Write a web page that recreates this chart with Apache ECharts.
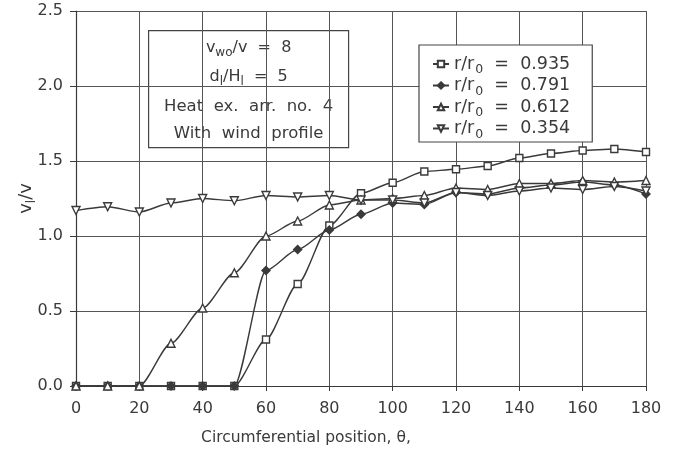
<!DOCTYPE html>
<html><head><meta charset="utf-8">
<script src="https://cdn.jsdelivr.net/npm/echarts@6/dist/echarts.min.js"></script>
<style>html,body{margin:0;padding:0;background:#fff}#c{width:674px;height:450px}</style>
</head><body><div id="c"></div>
<script>
var theta = [0,10,20,30,40,50,60,70,80,90,100,110,120,130,140,150,160,170,180];
var r0935 = [0,0,0,0,0,0,0.31,0.68,1.07,1.285,1.355,1.43,1.445,1.467,1.52,1.55,1.57,1.58,1.56];
var r0791 = [0,0,0,0,0,0,0.77,0.91,1.04,1.145,1.22,1.21,1.29,1.28,1.32,1.34,1.36,1.34,1.28];
var r0612 = [0,0,0,0.285,0.52,0.755,1.0,1.10,1.207,1.24,1.25,1.27,1.32,1.31,1.35,1.35,1.37,1.36,1.37];
var r0354 = [1.17,1.195,1.16,1.22,1.25,1.235,1.27,1.26,1.27,1.24,1.24,1.22,1.29,1.27,1.30,1.32,1.31,1.33,1.30];
var seriesNames = ['0.935','0.791','0.612','0.354'];
var xTicks = [0,20,40,60,80,100,120,140,160,180];
var yTicks = [0,0.5,1.0,1.5,2.0,2.5];

var FONT = 'DejaVu Sans';
var INK = '#3a3a3a';
function pair(arr){ return theta.map(function(t,i){ return [t, arr[i]]; }); }
function mkSeries(name, arr, symbol, rot, filled, size){
  return {
    name: name, type: 'line', data: pair(arr), smooth: 0.25, smoothMonotone: 'x',
    symbol: symbol, symbolSize: size, symbolRotate: rot,
    lineStyle: {color: INK, width: 1.4},
    itemStyle: {color: filled ? INK : '#fff', borderColor: INK, borderWidth: 1.4},
    emphasis: {disabled: true}, animation: false
  };
}
var richBox = {n: {fontFamily: FONT, fontSize: 16, fill: INK}, s: {fontFamily: FONT, fontSize: 12, fill: INK, padding: [10,0,0,0]}};
var chart = echarts.init(document.getElementById('c'));
chart.setOption({
  backgroundColor: '#fff',
  animation: false,
  grid: {left: 76, right: 28, top: 11, bottom: 64, outerBoundsMode: 'none', containLabel: false},
  xAxis: {
    type: 'value', min: 0, max: 180, interval: 20,
    name: 'Circumferential position, \u03b8,',
    nameLocation: 'middle', nameGap: 44, nameMoveOverlap: false,
    nameTextStyle: {fontFamily: FONT, fontSize: 15.5, color: INK, padding: [0, 110, 0, 0]},
    axisLine: {lineStyle: {color: INK, width: 1.2}},
    axisTick: {show: true, inside: false, length: 5, lineStyle: {color: INK}},
    axisLabel: {fontFamily: FONT, fontSize: 16, color: INK, margin: 15,
      formatter: function(v){ return xTicks.indexOf(v) >= 0 ? String(v) : ''; }},
    splitLine: {show: true, lineStyle: {color: '#555', width: 1}}
  },
  yAxis: {
    type: 'value', min: 0, max: 2.5, interval: 0.5,
    name: '{n|v}{s|l}{n|/v}',
    nameLocation: 'middle', nameGap: 38, nameRotate: 90, nameMoveOverlap: false,
    nameTextStyle: {fontFamily: FONT, color: INK,
      rich: {n: {fontFamily: FONT, fontSize: 18, color: INK},
             s: {fontFamily: FONT, fontSize: 12, color: INK, padding: [12,0,0,0]}}},
    axisLine: {show: true, lineStyle: {color: INK, width: 1.2}},
    axisTick: {show: true, inside: false, length: 6, lineStyle: {color: INK}},
    axisLabel: {fontFamily: FONT, fontSize: 16, color: INK, margin: 13,
      formatter: function(v){ return yTicks.indexOf(v) >= 0 ? v.toFixed(1) : ''; }},
    splitLine: {show: true, lineStyle: {color: '#555', width: 1}}
  },
  legend: {
    orient: 'vertical', left: 419, top: 45,
    padding: [10, 22, 1, 13], itemGap: 0,
    itemWidth: 16, itemHeight: 8,
    borderColor: '#444', borderWidth: 1.2, backgroundColor: '#fff',
    data: seriesNames,
    formatter: function(n){ return '{n|r/r}{s|0}{n|  =  ' + n + '}'; },
    textStyle: {fontFamily: FONT, color: INK,
      rich: {n: {fontFamily: FONT, fontSize: 17.5, color: INK, lineHeight: 20, padding: [0,0,0,0]},
             s: {fontFamily: FONT, fontSize: 12.5, color: INK, padding: [12,0,0,1]}}}
  },
  graphic: [{
    type: 'group', left: 148, top: 30, z: 100,
    children: [
      {type: 'rect', shape: {x: 0, y: 0, width: 200, height: 117},
       style: {fill: '#fff', stroke: '#444', lineWidth: 1.2}},
      {type: 'text', x: 100, y: 17, style: {text: '{n|v}{s|wo}{n|/v  =  8}', align: 'center', verticalAlign: 'middle', rich: richBox}},
      {type: 'text', x: 100, y: 46, style: {text: '{n|d}{s|l}{n|/H}{s|l}{n|  =  5}', align: 'center', verticalAlign: 'middle', rich: richBox}},
      {type: 'text', x: 100, y: 76, style: {text: 'Heat  ex.  arr.  no.  4', align: 'center', verticalAlign: 'middle',
        fontFamily: FONT, fontSize: 16.5, fill: INK}},
      {type: 'text', x: 100, y: 103, style: {text: 'With  wind  profile', align: 'center', verticalAlign: 'middle',
        fontFamily: FONT, fontSize: 16.5, fill: INK}}
    ]
  }],
  series: [
    mkSeries('0.935', r0935, 'rect', 0, false, 7),
    mkSeries('0.791', r0791, 'diamond', 0, true, 8),
    mkSeries('0.612', r0612, 'triangle', 0, false, 8),
    mkSeries('0.354', r0354, 'triangle', 180, false, 8)
  ]
});
</script></body></html>
